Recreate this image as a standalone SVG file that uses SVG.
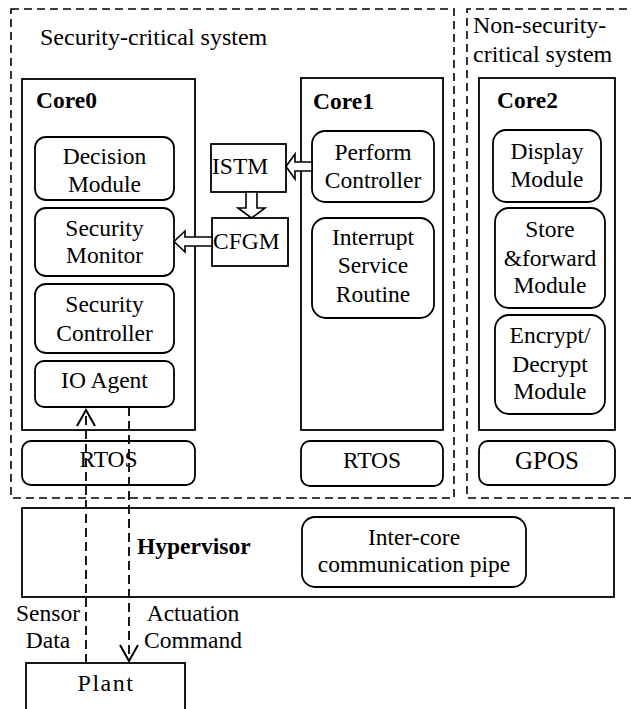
<svg xmlns="http://www.w3.org/2000/svg" width="631" height="709" viewBox="0 0 631 709">
<defs>
<style>
.t{font-family:"Liberation Serif","Times New Roman",serif;font-size:23.5px;fill:#000}
.c{text-anchor:middle}
.b{font-weight:bold}
.box{fill:#fff;stroke:#000;stroke-width:1.8}
.rbox{fill:#fff;stroke:#000;stroke-width:1.8}
.sys{fill:none;stroke:#000;stroke-width:1.6;stroke-dasharray:8 5}
.blk{fill:#fff;stroke:#000;stroke-width:1.6;stroke-linejoin:miter}
.dash{fill:none;stroke:#000;stroke-width:1.8;stroke-dasharray:9 5}
</style>
<marker id="open" viewBox="0 0 20 20" refX="18" refY="10" markerWidth="20" markerHeight="20" markerUnits="userSpaceOnUse" orient="auto">
<path d="M2,1 L18,10 L2,19" fill="none" stroke="#000" stroke-width="2"/>
</marker>
</defs>
<rect width="631" height="709" fill="#fff"/>

<g id="security-critical-system">
<rect class="sys" x="11" y="9" width="443" height="489"/>
<text class="t" x="40" y="45" style="font-size:24px">Security-critical system</text>
</g>
<g id="non-security-critical-system">
<path class="sys" d="M640,9 H467 V498 H640"/>
<text class="t" x="473" y="33" style="font-size:24px">Non-security-</text>
<text class="t" x="473" y="62" style="font-size:24px">critical system</text>
</g>

<g id="core0">
<rect class="box" x="22" y="79" width="173" height="351"/>
<text class="t b" x="36" y="108">Core0</text>
</g>
<g id="decision-module">
<rect class="rbox" x="35" y="137" width="139" height="63" rx="11"/>
<text class="t c" x="104.5" y="164">Decision</text>
<text class="t c" x="104.5" y="192">Module</text>
</g>
<g id="security-monitor">
<rect class="rbox" x="35" y="208" width="139" height="68" rx="11"/>
<text class="t c" x="104.5" y="236">Security</text>
<text class="t c" x="104.5" y="263">Monitor</text>
</g>
<g id="security-controller">
<rect class="rbox" x="35" y="284" width="139" height="69" rx="11"/>
<text class="t c" x="104.5" y="312">Security</text>
<text class="t c" x="104.5" y="341">Controller</text>
</g>
<g id="io-agent">
<rect class="rbox" x="35" y="361" width="139" height="46" rx="9"/>
<text class="t c" x="104.5" y="388">IO Agent</text>
</g>
<g id="rtos0">
<rect class="rbox" x="22" y="441" width="173" height="44" rx="9"/>
<text class="t c" x="108.5" y="467">RTOS</text>
</g>

<g id="istm">
<rect class="box" x="211" y="144" width="75" height="48"/>
<text class="t" x="212" y="174">ISTM</text>
</g>
<g id="cfgm">
<rect class="box" x="212" y="218" width="76" height="48"/>
<text class="t" x="213" y="249">CFGM</text>
</g>

<g id="core1">
<rect class="box" x="301" y="78" width="142" height="352"/>
<text class="t b" x="313" y="109">Core1</text>
</g>
<g id="perform-controller">
<rect class="rbox" x="312" y="131" width="122" height="71" rx="13"/>
<text class="t c" x="373" y="160">Perform</text>
<text class="t c" x="373" y="188">Controller</text>
</g>
<g id="interrupt-service-routine">
<rect class="rbox" x="312" y="218" width="122" height="100" rx="14"/>
<text class="t c" x="373" y="245">Interrupt</text>
<text class="t c" x="373" y="273">Service</text>
<text class="t c" x="373" y="302">Routine</text>
</g>
<g id="rtos1">
<rect class="rbox" x="301" y="441" width="142" height="45" rx="9"/>
<text class="t c" x="372" y="468">RTOS</text>
</g>

<g id="core2">
<rect class="box" x="479" y="78" width="136" height="352"/>
<text class="t b" x="497" y="108">Core2</text>
</g>
<g id="display-module">
<rect class="rbox" x="493" y="130" width="108" height="72" rx="13"/>
<text class="t c" x="547" y="159">Display</text>
<text class="t c" x="547" y="187">Module</text>
</g>
<g id="store-forward-module">
<rect class="rbox" x="495" y="208" width="110" height="100" rx="14"/>
<text class="t c" x="550" y="237">Store</text>
<text class="t c" x="550" y="266">&amp;forward</text>
<text class="t c" x="550" y="293">Module</text>
</g>
<g id="encrypt-decrypt-module">
<rect class="rbox" x="495" y="315" width="110" height="99" rx="14"/>
<text class="t c" x="550" y="343">Encrypt/</text>
<text class="t c" x="550" y="372">Decrypt</text>
<text class="t c" x="550" y="399">Module</text>
</g>
<g id="gpos">
<rect class="rbox" x="479" y="441" width="136" height="44" rx="9"/>
<text class="t c" x="547" y="469" style="font-size:25px">GPOS</text>
</g>

<g id="hypervisor">
<rect class="box" x="22" y="508" width="592" height="89"/>
<text class="t b" x="137" y="554">Hypervisor</text>
</g>
<g id="inter-core-pipe">
<rect class="rbox" x="302" y="517" width="224" height="70" rx="13"/>
<text class="t c" x="414" y="545">Inter-core</text>
<text class="t c" x="414" y="572">communication pipe</text>
</g>

<g id="plant">
<rect class="box" x="26" y="663" width="159" height="50"/>
<text class="t c" x="106" y="691" style="font-size:24px;letter-spacing:1.5px">Plant</text>
</g>

<g id="connectors">
<polygon class="blk" points="312,162 295,162 295,154 286,166.5 295,179 295,171 312,171"/>
<polygon class="blk" points="246,192 246,208 238,208 251.5,218 265,208 257,208 257,192"/>
<polygon class="blk" points="212,237 185,237 185,231 174,241.5 185,252 185,246 212,246"/>
<line class="dash" x1="86" y1="663" x2="86" y2="410" marker-end="url(#open)"/>
<line class="dash" x1="129" y1="407" x2="129" y2="661" marker-end="url(#open)"/>
</g>

<g id="labels">
<text class="t c" x="48" y="621">Sensor</text>
<text class="t c" x="48" y="648">Data</text>
<text class="t c" x="193" y="621">Actuation</text>
<text class="t c" x="193" y="648">Command</text>
</g>
</svg>
